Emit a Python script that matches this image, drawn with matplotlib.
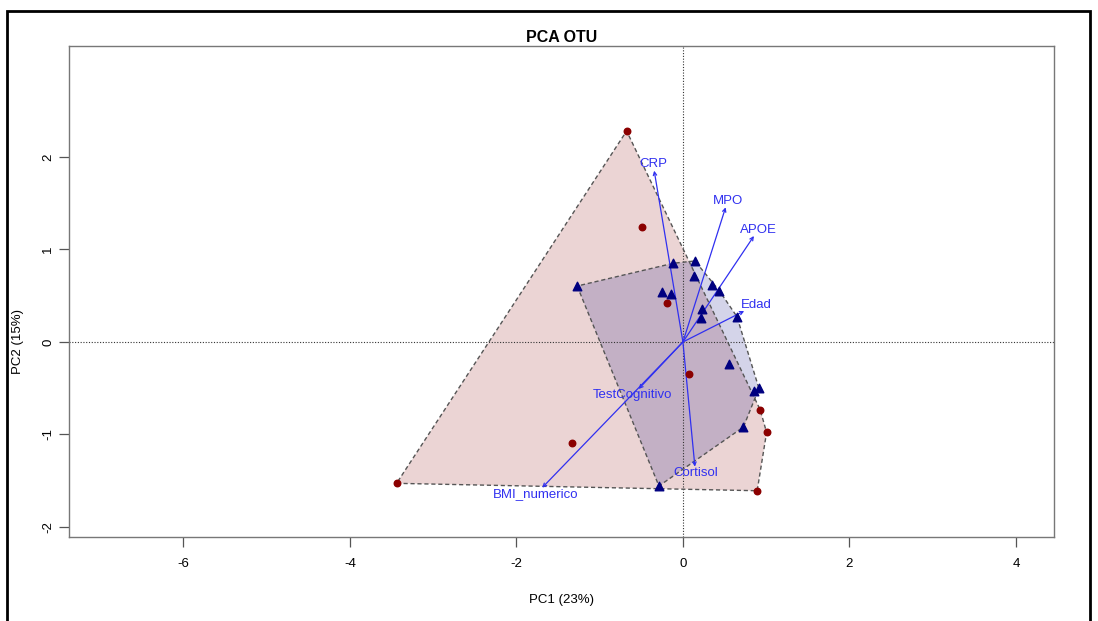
import numpy as np
import matplotlib
matplotlib.use("Agg")
import matplotlib.pyplot as plt
from matplotlib.patches import Polygon, Rectangle

plt.rcParams["font.family"] = ["Liberation Sans", "DejaVu Sans"]
plt.rcParams["axes.unicode_minus"] = False

# ── Scores (PC1, PC2) por grupo ────────────────────────────────────────────────
grupo1_pc1 = [-0.676, -0.489, -0.186, 0.076, -1.337, -3.439, 0.892, 0.929, 1.005]
grupo1_pc2 = [2.281, 1.246, 0.424, -0.346, -1.089, -1.528, -1.608, -0.735, -0.978]

grupo2_pc1 = [-1.270, -0.117, -0.256, -0.148, 0.144, 0.132, 0.352, 0.436,
              0.232, 0.216, 0.649, 0.553, 0.853, 0.913, 0.727, -0.288]
grupo2_pc2 = [0.605, 0.851, 0.544, 0.516, 0.876, 0.714, 0.616, 0.555,
              0.354, 0.263, 0.274, -0.238, -0.526, -0.501, -0.919, -1.557]

# ── Vectores de variables (envfit) ─────────────────────────────────────────────
variables = ["CRP", "MPO", "APOE", "Edad", "TestCognitivo", "Cortisol", "BMI_numerico"]
var_pc1 = [-0.345, 0.513, 0.853, 0.736, -0.532, 0.144, -1.690]
var_pc2 = [1.852, 1.456, 1.146, 0.335, -0.508, -1.348, -1.575]

COL_G1 = "#8B0000"
COL_G2 = "#000080"
COL_VAR = "#3030F0"


def convex_hull(xs, ys):
    pts = sorted(set(zip(xs, ys)))

    def cross(o, a, b):
        return (a[0] - o[0]) * (b[1] - o[1]) - (a[1] - o[1]) * (b[0] - o[0])

    lower, upper = [], []
    for p in pts:
        while len(lower) >= 2 and cross(lower[-2], lower[-1], p) <= 0:
            lower.pop()
        lower.append(p)
    for p in reversed(pts):
        while len(upper) >= 2 and cross(upper[-2], upper[-1], p) <= 0:
            upper.pop()
        upper.append(p)
    return lower[:-1] + upper[:-1]


W, H, DPI = 1098, 621, 100
fig = plt.figure(figsize=(W / DPI, H / DPI), dpi=DPI)
ax = fig.add_axes([69.3 / W, 1 - 536.7 / H, (1054 - 69.3) / W, (536.7 - 46) / H])

ax.set_xlim(-7.37, 4.457)
ax.set_ylim(-2.105, 3.2)

# marco exterior
fig.patches.append(Rectangle((7 / W, -0.1), (1090 - 7) / W, 1.1 - 11 / H,
                             transform=fig.transFigure, fill=False,
                             edgecolor="black", linewidth=2))

# ── Envolventes convexas ──────────────────────────────────────────────────────
for xs, ys, col in [(grupo1_pc1, grupo1_pc2, COL_G1), (grupo2_pc1, grupo2_pc2, COL_G2)]:
    hull = convex_hull(xs, ys)
    ax.add_patch(Polygon(hull, closed=True, facecolor=col, alpha=0.17,
                         edgecolor="none", zorder=1))
    ax.add_patch(Polygon(hull, closed=True, fill=False, edgecolor="#555555",
                         linestyle=(0, (3, 2)), linewidth=1, zorder=2))

ax.axhline(0, color="#333333", linestyle=(0, (1, 1.5)), linewidth=0.8, zorder=1.5)
ax.axvline(0, color="#333333", linestyle=(0, (1, 1.5)), linewidth=0.8, zorder=1.5)

ax.scatter(grupo1_pc1, grupo1_pc2, s=22, marker="o", color=COL_G1, zorder=4)
ax.scatter(grupo2_pc1, grupo2_pc2, s=38, marker="^", color=COL_G2, zorder=4)

# ── Flechas y etiquetas ───────────────────────────────────────────────────────
for x, y in zip(var_pc1, var_pc2):
    ax.annotate("", xy=(x, y), xytext=(0, 0),
                arrowprops=dict(arrowstyle="->", color=COL_VAR, lw=0.9,
                                shrinkA=0, shrinkB=0, mutation_scale=6),
                zorder=3)

fig.canvas.draw()
renderer = fig.canvas.get_renderer()
origen = ax.transData.transform((0, 0))
for nombre, x, y in zip(variables, var_pc1, var_pc2):
    t = ax.text(x, y, nombre, color=COL_VAR, fontsize=9.5,
                ha="center", va="center", zorder=5)
    bb = t.get_window_extent(renderer)
    w, h = bb.width, bb.height * 0.7
    tip = ax.transData.transform((x, y))
    dx, dy = tip - origen
    b = dy / dx
    # el texto se coloca en la prolongación de la flecha
    off = [np.sign(dx) * (w / 2 + h / 4), 0.75 * h * np.sign(dy)]
    move = off[1] / b
    if np.isfinite(move) and abs(move) <= abs(off[0]):
        off[0] = move
    else:
        off[1] = b * off[0]
    t.set_position(ax.transData.inverted().transform(tip + np.array(off)))

# ── Ejes estilo R ─────────────────────────────────────────────────────────────
ax.set_xticks([-6, -4, -2, 0, 2, 4])
ax.set_yticks([-2, -1, 0, 1, 2])
for s in ax.spines.values():
    s.set_color("#777777")
    s.set_linewidth(1)
ax.tick_params(axis="both", direction="out", length=7, width=0.9,
               color="#555555", labelsize=9.5)
ax.tick_params(axis="x", pad=8)
ax.tick_params(axis="y", pad=4)
for lab in ax.get_yticklabels():
    lab.set_rotation(90)
    lab.set_va("center")

fig.text(561.5 / W, 1 - 600 / H, "PC1 (23%)", fontsize=9.5, ha="center", va="center")
fig.text(18 / W, 1 - 342 / H, "PC2 (15%)", fontsize=9.5, rotation=90,
         ha="center", va="center")
fig.text(561.5 / W, 1 - 38 / H, "PCA OTU", fontsize=11.5, fontweight="bold",
         ha="center", va="center")

fig.savefig("out.png", dpi=DPI)
